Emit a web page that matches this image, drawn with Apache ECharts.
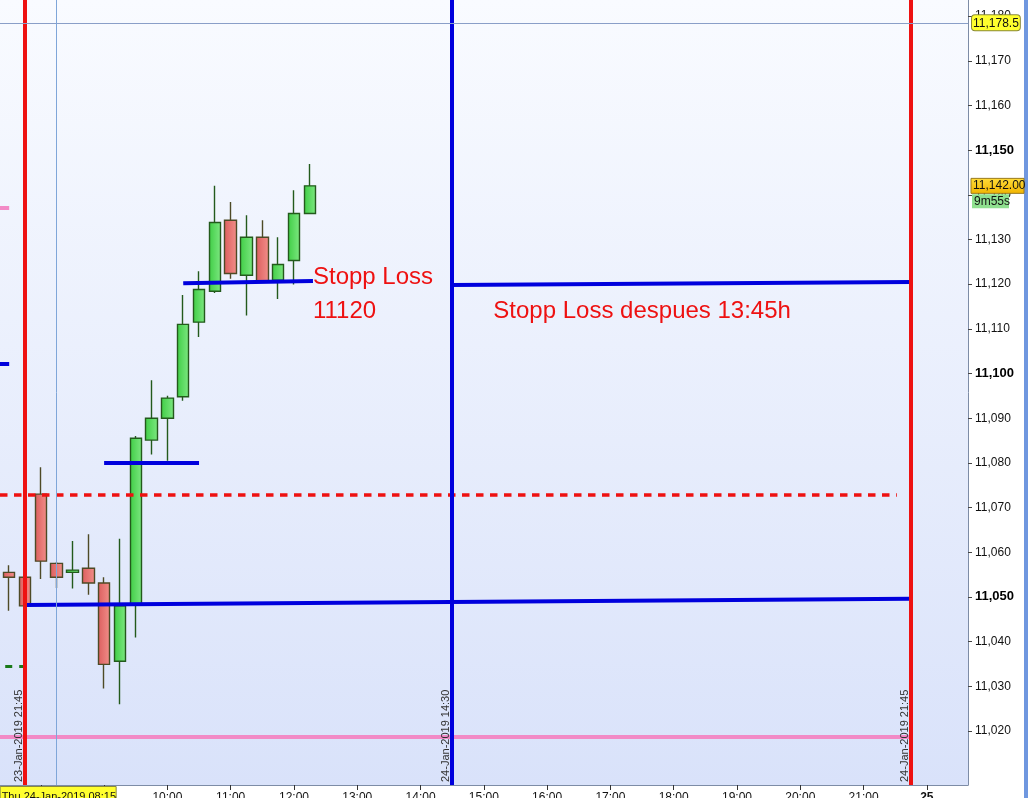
<!DOCTYPE html>
<html>
<head>
<meta charset="utf-8">
<title>FDAX 15m</title>
<script src="https://cdn.jsdelivr.net/npm/echarts@6/dist/echarts.min.js"></script>
<style>
  html, body { margin: 0; padding: 0; background: #fff; }
  #main { width: 1028px; height: 798px; }
</style>
</head>
<body>
<div id="main"></div>
<script>
// 15 min slots: 0 = 23-Jan 21:45, 1 = 24-Jan 08:00 ... 56 = 24-Jan 21:45, 57 = 25-Jan 08:00
const candleSlots = [-2, -1, 0, 1, 2, 3, 4, 5, 6, 7, 8, 9, 10, 11, 12, 13, 14, 15, 16, 17, 18];
const openVals  = [11055.5, 11055.5, 11054.4, 11073.0, 11057.5, 11055.5, 11056.4, 11053.1, 11035.6, 11048.2, 11085.1, 11090.0, 11094.8, 11111.5, 11118.4, 11134.3, 11122.0, 11130.5, 11120.9, 11125.3, 11135.8];
const closeVals = [11045.5, 11054.4, 11048.0, 11058.0, 11054.4, 11056.0, 11053.1, 11034.9, 11048.0, 11085.5, 11090.0, 11094.5, 11111.0, 11118.8, 11133.8, 11122.4, 11130.5, 11120.8, 11124.4, 11135.8, 11142.0];
const lowVals   = [11044.0, 11046.9, 11047.8, 11054.0, 11052.0, 11051.9, 11050.5, 11029.5, 11026.0, 11040.9, 11081.9, 11080.5, 11093.9, 11108.2, 11118.0, 11121.2, 11113.0, 11120.5, 11116.7, 11119.9, 11135.8];
const highVals  = [11057.0, 11057.1, 11054.6, 11079.0, 11057.8, 11062.5, 11064.0, 11054.4, 11063.0, 11086.0, 11098.5, 11095.0, 11117.6, 11122.9, 11142.0, 11138.4, 11135.4, 11134.3, 11130.5, 11141.0, 11146.9];

// axis ticks / labels
const xTickSlots  = [1, 5, 9, 13, 17, 21, 25, 29, 33, 37, 41, 45, 49, 53, 57];
const xLabelSlots = [9, 13, 17, 21, 25, 29, 33, 37, 41, 45, 49, 53, 57];
const xLabels     = ['10:00', '11:00', '12:00', '13:00', '14:00', '15:00', '16:00', '17:00', '18:00', '19:00', '20:00', '21:00', '25'];
const yTicks = [11020, 11030, 11040, 11050, 11060, 11070, 11080, 11090, 11100, 11110, 11120, 11130, 11140, 11150, 11160, 11170, 11180];

// drawn lines: [slot, price] start / end
const blueFrom = [[0, 11048.2], [5, 11080.0], [10, 11120.2], [27, 11119.8], [-1.58, 11102.1]];
const blueTo   = [[56, 11049.6], [11, 11080.0], [18.2, 11120.7], [56, 11120.5], [-1, 11102.1]];
const redDashLevel = [[-1.58, 11072.9], [55.1, 11072.9]];
const pinkFrom = [[-1.58, 11018.7], [-1.58, 11137.0]];
const pinkTo   = [[56, 11018.7], [-1, 11137.0]];
const greenDashLevel = [[-1.25, 11034.5], [0, 11034.5]];
const vLineSlots  = [0, 27, 56];
const vLineLabels = ['23-Jan-2019 21:45', '24-Jan-2019 14:30', '24-Jan-2019 21:45'];

// notes
const noteText = ['Stopp Loss\n11120', 'Stopp Loss despues 13:45h'];
const noteAt   = [[18.2, 11125.3], [29.6, 11117.7]];

const cursorSlot = 2, cursorLabel = 'Thu 24-Jan-2019 08:15';
const cursorPrice = 11178.5;
const lastPrice = 11142.0, barTimer = '9m55s';

const FONT = 'Liberation Sans, Arial, sans-serif';
const RED = '#ee1111', BLUE = '#0000dd', PINK = '#f28ac6';

function fmt(v) {
  const parts = String(v).split('.');
  parts[0] = parts[0].replace(/\B(?=(\d{3})+(?!\d))/g, ',');
  return parts.join('.');
}

const candleData = candleSlots.map((k, i) => [k, openVals[i], closeVals[i], lowVals[i], highVals[i]]);

const seg = (a, b, style) => [{ coord: a, lineStyle: style }, { coord: b }];
const lineData = [];
blueFrom.forEach((a, i) => lineData.push(seg(a, blueTo[i], { color: BLUE, width: 4, type: 'solid' })));
pinkFrom.forEach((a, i) => lineData.push(seg(a, pinkTo[i], { color: PINK, width: 4, type: 'solid' })));
lineData.push(seg(redDashLevel[0], redDashLevel[1], { color: RED, width: 3.5, type: [7.5, 6.5] }));
lineData.push(seg(greenDashLevel[0], greenDashLevel[1], { color: '#1a7a1a', width: 3, type: [7, 7] }));
vLineSlots.forEach((k, i) => lineData.push({
  xAxis: k,
  lineStyle: { color: i === 1 ? BLUE : RED, width: 4, type: 'solid' },
  label: {
    show: true, formatter: vLineLabels[i], position: 'insideStartTop',
    distance: [3, 1], color: '#333', fontSize: 11, fontFamily: FONT
  }
}));

var myChart = echarts.init(document.getElementById('main'));
let option = {
  animation: false,
  backgroundColor: '#ffffff',
  grid: {
    left: 0, right: 60, top: 0, bottom: 13,
    containLabel: false,
    outerBoundsMode: 'none',
    show: true, borderWidth: 0,
    backgroundColor: new echarts.graphic.LinearGradient(0, 0, 0, 1, [
      { offset: 0, color: '#f9fbff' },
      { offset: 1, color: '#d9e2fa' }
    ])
  },
  xAxis: {
    type: 'value',
    min: -1.58, max: 59.6,
    splitLine: { show: false },
    axisLine: { show: true, onZero: false, lineStyle: { color: '#7d8ca6', width: 1 } },
    axisTick: { show: true, length: 5, customValues: xTickSlots, lineStyle: { color: '#333' } },
    axisLabel: {
      customValues: xLabelSlots, margin: 7, color: '#111', fontSize: 12, fontFamily: FONT,
      formatter: function (v) {
        const i = xLabelSlots.indexOf(Math.round(v));
        const s = i >= 0 ? xLabels[i] : '';
        return s === '25' ? '{b|25}' : s;
      },
      rich: { b: { fontWeight: 'bold', fontSize: 12, fontFamily: FONT, color: '#111' } }
    },
    axisPointer: {
      show: true, status: 'show', value: cursorSlot, triggerTooltip: false,
      type: 'line', lineStyle: { color: '#7fa6d9', width: 1, type: 'solid' },
      label: { show: false }
    }
  },
  yAxis: {
    type: 'value',
    position: 'right',
    min: 11007.9, max: 11183.6,
    splitLine: { show: false },
    axisLine: { show: true, onZero: false, lineStyle: { color: '#7d8ca6', width: 1 } },
    axisTick: { show: true, length: 4, customValues: yTicks, lineStyle: { color: '#444' } },
    axisLabel: {
      customValues: yTicks, margin: 7, color: '#111', fontSize: 12, fontFamily: FONT,
      formatter: function (v) {
        return v % 50 === 0 ? '{b|' + fmt(v) + '}' : fmt(v);
      },
      rich: { b: { fontWeight: 'bold', fontSize: 13, fontFamily: FONT, color: '#000' } }
    },
    axisPointer: {
      show: true, status: 'show', value: cursorPrice, triggerTooltip: false,
      type: 'line', lineStyle: { color: '#8a9fc8', width: 1, type: 'solid' },
      label: {
        show: true, margin: 4,
        formatter: function (p) { return fmt(Number(p.value).toFixed(1)); },
        backgroundColor: '#ffff2e', borderColor: '#8a8a3a', borderWidth: 1,
        color: '#111', fontSize: 12, fontFamily: FONT, padding: [2, 1, 1, 1]
      }
    }
  },
  series: [
    {
      type: 'candlestick',
      data: candleData,
      barWidth: 12,
      z: 2,
      itemStyle: {
        color: new echarts.graphic.LinearGradient(0, 0, 1, 0, [
          { offset: 0, color: '#3fcd45' },
          { offset: 1, color: '#7ee882' }
        ]),
        color0: new echarts.graphic.LinearGradient(0, 0, 1, 0, [
          { offset: 0, color: '#dc5e5e' },
          { offset: 1, color: '#f28f8a' }
        ]),
        borderColor: '#235a1c',
        borderColor0: '#4e4a26',
        borderWidth: 1.4
      }
    },
    {
      // drawn studies on top of the bars
      type: 'line',
      data: [],
      z: 5,
      markLine: {
        silent: true,
        symbol: ['none', 'none'],
        label: { show: false },
        emphasis: { disabled: true },
        data: lineData
      },
      markPoint: {
        silent: true,
        symbol: 'rect',
        symbolSize: 0,
        label: {
          show: true, position: [0, 0], align: 'left', verticalAlign: 'top',
          color: RED, fontSize: 24, lineHeight: 34, fontFamily: FONT
        },
        data: noteAt.map((c, i) => ({ coord: c, label: { formatter: noteText[i] } }))
      }
    }
  ]
};
myChart.setOption(option);

// boxes on the axes, placed from the scales
const py = myChart.convertToPixel({ yAxisIndex: 0 }, lastPrice);
const cx = myChart.convertToPixel({ xAxisIndex: 0 }, cursorSlot);
const axisY = myChart.convertToPixel({ yAxisIndex: 0 }, 11007.9);
myChart.setOption({
  graphic: [
    { type: 'rect', shape: { x: 1024, y: 0, width: 4, height: 798 }, style: { fill: '#6f97df' }, z: 100 },
    {
      type: 'rect', shape: { x: 971, y: py - 7.5, width: 53, height: 15 },
      style: {
        fill: new echarts.graphic.LinearGradient(0, 0, 0, 1, [
          { offset: 0, color: '#ffdc3a' },
          { offset: 1, color: '#f2b400' }
        ]),
        stroke: '#9a7a20', lineWidth: 1
      }, z: 100
    },
    { type: 'text', x: 973, y: py, style: { text: fmt(lastPrice.toFixed(2)), fill: '#111', font: '12px ' + FONT, verticalAlign: 'middle' }, z: 101 },
    { type: 'rect', shape: { x: 972, y: py + 8.5, width: 37, height: 14 }, style: { fill: '#8fe08f' }, z: 100 },
    { type: 'text', x: 974, y: py + 15.5, style: { text: barTimer, fill: '#111', font: '12px ' + FONT, verticalAlign: 'middle' }, z: 101 },
    // time cursor label, runs off the bottom edge like the original
    { type: 'rect', shape: { x: cx - 56.5, y: axisY + 1.5, width: 116, height: 18 },
      style: { fill: '#ffff2e', stroke: '#8a8a3a', lineWidth: 1 }, z: 100 },
    { type: 'text', x: cx - 55, y: axisY + 6, style: { text: cursorLabel, fill: '#111', font: '11px ' + FONT, align: 'left', verticalAlign: 'top' }, z: 101 }
  ]
});

window.addEventListener('resize', function () {
  myChart.resize();
});
</script>
</body>
</html>
